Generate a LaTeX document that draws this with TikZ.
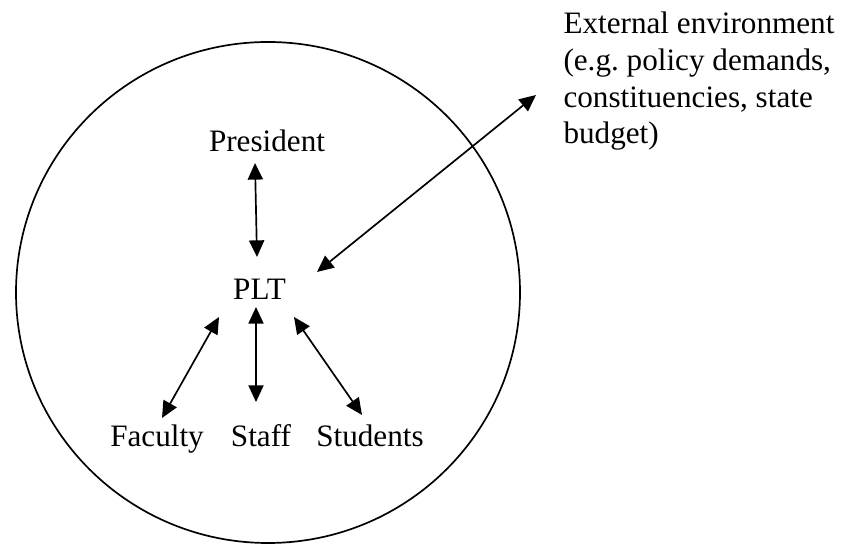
\documentclass[tikz,border=0pt]{standalone}
\usepackage{fontspec}
\setmainfont{Liberation Serif}
\usetikzlibrary{arrows.meta,calc}

\newlength{\du}
\setlength{\du}{0.385pt}

\tikzset{
  txt/.style={inner sep=0pt, font=\fontsize{12}{14.1}\selectfont},
  link/.style={line width=0.65pt,
    {Triangle[length=6.4pt,width=5.8pt]}-{Triangle[length=6.4pt,width=5.8pt]}},
}

\begin{document}
\begin{tikzpicture}
\pgftransformxscale{1.000000}
\pgftransformyscale{-1.000000}
\useasboundingbox (0\du,0\du) rectangle (844\du,544\du);
% institution boundary
\draw[line width=0.65pt] (268\du,292.5\du) ellipse [x radius=252\du, y radius=250.5\du];
% actors
\node[txt, anchor=base] (president) at (267\du,152\du){President};
\node[txt, anchor=base] (plt) at (259.5\du,300\du){PLT};
\node[txt, anchor=base] (faculty) at (157\du,447\du){Faculty};
\node[txt, anchor=base] (staff) at (261\du,447\du){Staff};
\node[txt, anchor=base] (students) at (370\du,447\du){Students};
\node[txt, anchor=north west, align=left] (external) at (563\du,11.7\du){External environment\\(e.g.\ policy demands,\\constituencies, state\\budget)};
% two-way links
\draw[link] ($(president.base)+(-12\du,11\du)$)--($(plt.base)+(-2.5\du,-43\du)$);
\draw[link] ($(plt.base)+(-40.5\du,17\du)$)--($(faculty.base)+(5\du,-29\du)$);
\draw[link] ($(plt.base)+(-3.5\du,7\du)$)--($(staff.base)+(-5\du,-45\du)$);
\draw[link] ($(plt.base)+(34.5\du,17\du)$)--($(students.base)+(-8\du,-32\du)$);
\draw[link] ($(plt.base)+(57.5\du,-28\du)$)--($(external.north west)+(-27\du,83.3\du)$);
\end{tikzpicture}
\end{document}
